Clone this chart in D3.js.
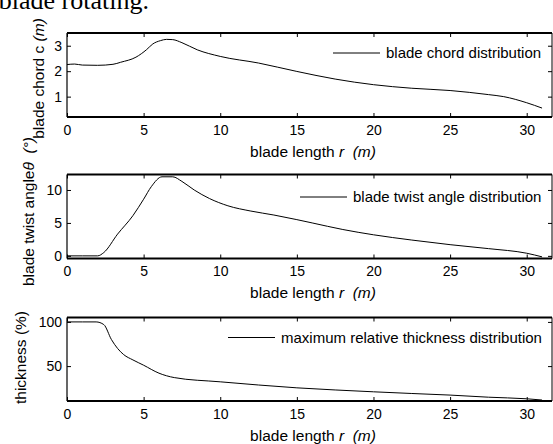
<!DOCTYPE html>
<html>
<head>
<meta charset="utf-8">
<script src="https://cdn.jsdelivr.net/npm/d3@7"></script>
<style>
  html, body { margin: 0; padding: 0; background: #fff; overflow: hidden; }
  svg { display: block; font-family: "Liberation Sans", Arial, sans-serif; }
</style>
</head>
<body>
<svg id="chart" width="553" height="444"></svg>
<script>
"use strict";

// --- data ---
const xTicks = [0, 5, 10, 15, 20, 25, 30];

const chordR = [0, 0.5, 1, 2, 3, 3.5, 4.5, 5.2, 5.6, 6.1, 6.5, 6.9, 7.5, 8.5, 10, 12.5, 15, 17.5, 20, 22.5, 25, 27.5, 28.5, 30, 31];
const chordC = [2.26, 2.28, 2.24, 2.23, 2.27, 2.35, 2.55, 2.85, 3.07, 3.2, 3.25, 3.24, 3.12, 2.84, 2.58, 2.32, 1.99, 1.69, 1.47, 1.33, 1.24, 1.08, 1.0, 0.76, 0.55];
const chordTicks = [1, 2, 3];

const twistR = [0, 1, 2, 2.4, 3.3, 4.3, 5.0, 5.5, 6.2, 6.9, 7.5, 8.3, 9.3, 10.5, 12, 13.5, 15, 16, 18, 20, 22.5, 25, 27.5, 30, 31];
const twistT = [0, 0, 0, 0.5, 3.3, 6.1, 8.6, 10.5, 12.0, 12.0, 11.3, 10.0, 8.7, 7.6, 6.8, 6.2, 5.5, 5.0, 4.0, 3.2, 2.4, 1.7, 1.1, 0.4, -0.15];
const twistTicks = [0, 5, 10];

const thickR = [0, 1, 1.9, 2.4, 2.9, 3.3, 3.7, 4.3, 5, 6, 7, 10, 12.5, 15, 17.5, 20, 22.5, 25, 27.5, 30, 31];
const thickT = [100, 100, 100, 97, 80, 70, 63, 57, 51, 42, 37, 32.2, 28.6, 25.4, 23, 20.9, 19, 17.2, 14.8, 13, 11.6];
const thickTicks = [50, 100];

const panels = [
  { r: chordR, v: chordC, yDom: [0.2, 3.5], ticks: chordTicks, top: 33, bottom: 117,
    ylabel: [["blade chord c", false], [" (m)", true]], ylabelX: 44, ylabelY: 78.5,
    legend: "blade chord distribution", legX: 333, legY: 53 },
  { r: twistR, v: twistT, yDom: [-0.4, 12.35], ticks: twistTicks, top: 174.5, bottom: 258.5,
    ylabel: [["blade twist angle", false], ["θ", true], ["  (°)", true]], ylabelX: 34, ylabelY: 211.5,
    legend: "blade twist angle distribution", legX: 300, legY: 197 },
  { r: thickR, v: thickT, yDom: [10.5, 105], ticks: thickTicks, top: 317.5, bottom: 401,
    ylabel: [["thickness (%)", false]], ylabelX: 26, ylabelY: 357.5,
    legend: "maximum relative thickness distribution", legX: 228, legY: 337.5 }
];

const L = { left: 67, right: 552, tick: 4, font: 14, labelFont: 15.5 };

const svg = d3.select("#chart");

// cut-off caption line of the surrounding document
svg.append("text")
  .attr("x", 149).attr("y", 9).attr("text-anchor", "end")
  .style("font-family", "'Liberation Serif', 'Times New Roman', serif")
  .style("font-size", "26px")
  .text("blade rotating.");

const x = d3.scaleLinear().domain([0, 31.65]).range([L.left, L.right]);

panels.forEach(p => {
  const y = d3.scaleLinear().domain(p.yDom).range([p.bottom, p.top]);
  const g = svg.append("g");

  // line
  g.append("path")
    .datum(d3.zip(p.r, p.v))
    .attr("fill", "none").attr("stroke", "#000").attr("stroke-width", 1)
    .attr("d", d3.line().x(d => x(d[0])).y(d => y(d[1])).curve(d3.curveMonotoneX));

  // axes with inward ticks
  const bottomAx = d3.axisBottom(x).tickValues(xTicks).tickSizeInner(-L.tick).tickSizeOuter(0).tickFormat(d3.format("d"));
  const topAx = d3.axisTop(x).tickValues(xTicks).tickSizeInner(-L.tick).tickSizeOuter(0).tickFormat("");
  const leftAx = d3.axisLeft(y).tickValues(p.ticks).tickSizeInner(-L.tick).tickSizeOuter(0).tickPadding(5).tickFormat(d3.format("d"));
  const rightAx = d3.axisRight(y).tickValues(p.ticks).tickSizeInner(-L.tick).tickSizeOuter(0).tickFormat("");

  const gb = g.append("g").attr("transform", `translate(0,${p.bottom})`).call(bottomAx);
  const gt = g.append("g").attr("transform", `translate(0,${p.top})`).call(topAx);
  const gl = g.append("g").attr("transform", `translate(${L.left},0)`).call(leftAx);
  const gr = g.append("g").attr("transform", `translate(${L.right},0)`).call(rightAx);

  [gb, gt, gl, gr].forEach(a => {
    a.selectAll(".domain").remove();
    a.selectAll("line").attr("stroke", "#000").attr("stroke-width", 1);
    a.selectAll("text").attr("fill", "#000").style("font-size", L.font + "px")
      .style("font-family", "'Liberation Sans', Arial, sans-serif");
  });
  gb.selectAll("text").attr("dy", "0.71em").attr("y", 8);

  // frame: heavier top/bottom edges
  g.append("line").attr("x1", L.left).attr("x2", L.right).attr("y1", p.top).attr("y2", p.top)
    .attr("stroke", "#000").attr("stroke-width", 2);
  g.append("line").attr("x1", L.left).attr("x2", L.right).attr("y1", p.bottom).attr("y2", p.bottom)
    .attr("stroke", "#000").attr("stroke-width", 2);
  g.append("line").attr("x1", L.left).attr("x2", L.left).attr("y1", p.top).attr("y2", p.bottom)
    .attr("stroke", "#000").attr("stroke-width", 1.2);
  g.append("line").attr("x1", L.right).attr("x2", L.right).attr("y1", p.top).attr("y2", p.bottom)
    .attr("stroke", "#000").attr("stroke-width", 1);

  // x label
  const xl = g.append("text")
    .attr("x", 313).attr("y", p.bottom + 39.5).attr("text-anchor", "middle")
    .style("font-size", L.labelFont + "px");
  xl.append("tspan").text("blade length ");
  xl.append("tspan").style("font-style", "italic").text("r");
  xl.append("tspan").style("font-style", "italic").text("\u00a0\u00a0(m)");

  // y label
  const yl = g.append("text")
    .attr("transform", `translate(${p.ylabelX},${p.ylabelY}) rotate(-90)`)
    .attr("text-anchor", "middle")
    .style("font-size", L.labelFont + "px");
  p.ylabel.forEach(([t, it]) => {
    yl.append("tspan").style("font-style", it ? "italic" : "normal").text(t.replace(/ /g, "\u00a0"));
  });

  // legend (no box)
  g.append("line").attr("x1", p.legX).attr("x2", p.legX + 47).attr("y1", p.legY).attr("y2", p.legY)
    .attr("stroke", "#000").attr("stroke-width", 1);
  g.append("text").attr("x", p.legX + 53).attr("y", p.legY).attr("dy", "0.35em")
    .style("font-size", "15px").text(p.legend);
});
</script>
</body>
</html>
